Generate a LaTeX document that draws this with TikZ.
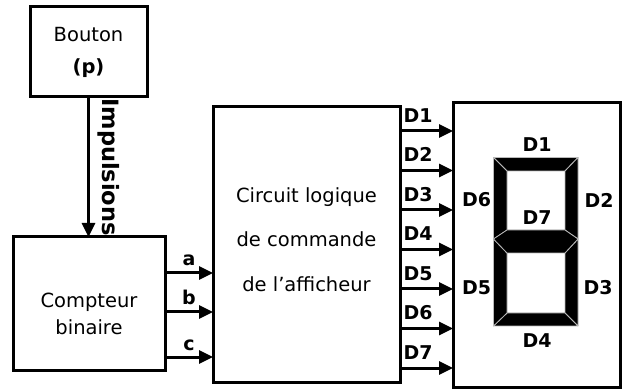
\documentclass[tikz,border=0pt]{standalone}
\usepackage{fontspec}
\setmainfont{DejaVu Sans}
\usetikzlibrary{arrows.meta}
\tikzset{
  bloc/.style={draw, line width=3pt, inner sep=0pt, outer sep=0pt},
  fleche/.style={line width=3pt, -{Triangle[length=14pt,width=13pt]}},
  lab/.style={font=\fontsize{19}{22}\bfseries\selectfont, inner sep=1pt},
  seg/.style={fill=black, draw=gray!55, line width=0.8pt, line join=round},
}
\begin{document}
\begin{tikzpicture}[x=1pt, y=-1pt, every node/.style={font=\fontsize{19.5}{23}\selectfont}]
  \useasboundingbox (0,0) rectangle (627,390);
  \node[bloc, minimum width=117pt, minimum height=90pt] (bouton) at (88.5,52) {};
  \node[bloc, minimum width=152pt, minimum height=133pt] (compteur) at (89,303.5) {};
  \node[bloc, minimum width=187pt, minimum height=275pt] (circuit) at (306.5,244.5) {};
  \node[bloc, minimum width=167pt, minimum height=284pt] (afficheur) at (536.5,245) {};
  \node[align=center, font=\fontsize{19.5}{32}\selectfont] (tbouton) at (bouton) {Bouton\\\textbf{(p)}};
  \node[align=center, font=\fontsize{19.5}{27}\selectfont] (tcompteur) at ([yshift=-10pt]compteur.center) {Compteur\\binaire};
  \node[align=center, font=\fontsize{19.5}{44.5}\selectfont] (tcircuit) at ([yshift=5pt]circuit.center) {Circuit logique\\de commande\\de l'afficheur};
  \draw[fleche] (bouton.south) -- (bouton.south |- compteur.north)
    node[midway, xshift=20pt, rotate=-90, font=\fontsize{22.5}{26}\bfseries\selectfont] (impulsions) {Impulsions};
  \foreach \s/\lab in {30.5/a, -8.5/b, -53.5/c}
    \draw[fleche] ([yshift=\s pt]compteur.east) coordinate (e\lab) -- (e\lab -| circuit.west)
      node[midway, anchor=base, yshift=7pt, lab] (l\lab) {\lab};
  \foreach \i [evaluate=\i as \s using 113.5-39.5*(\i-1)] in {1,...,7}
    \draw[fleche] ([yshift=\s pt]circuit.east) coordinate (d\i) -- (d\i -| afficheur.west)
      node[pos=0, anchor=south west, xshift=1pt, yshift=6pt, lab] (ld\i) {D\i};
  \filldraw[seg] (493.5,157.5) -- (578,157.5) -- (565,171) -- (507,171) -- cycle;
  \filldraw[seg] (578,157.5) -- (578,239) -- (565,230) -- (565,171) -- cycle;
  \filldraw[seg] (578,239) -- (578,326) -- (565,313) -- (565,253) -- cycle;
  \filldraw[seg] (493.5,326) -- (578,326) -- (565,313) -- (507,313) -- cycle;
  \filldraw[seg] (493.5,239) -- (493.5,326) -- (507,313) -- (507,253) -- cycle;
  \filldraw[seg] (493.5,157.5) -- (493.5,239) -- (507,230) -- (507,171) -- cycle;
  \filldraw[seg] (493.5,239) -- (507,230) -- (565,230) -- (578,239) -- (565,253) -- (507,253) -- cycle;
  \foreach \lab/\x/\y in {1/537/145, 2/599/200, 3/598/287.5, 4/537/340.5, 5/476.5/287.5, 6/476.5/200, 7/537/217.5}
    \node[lab] (s\lab) at (\x,\y) {D\lab};
\end{tikzpicture}
\end{document}
